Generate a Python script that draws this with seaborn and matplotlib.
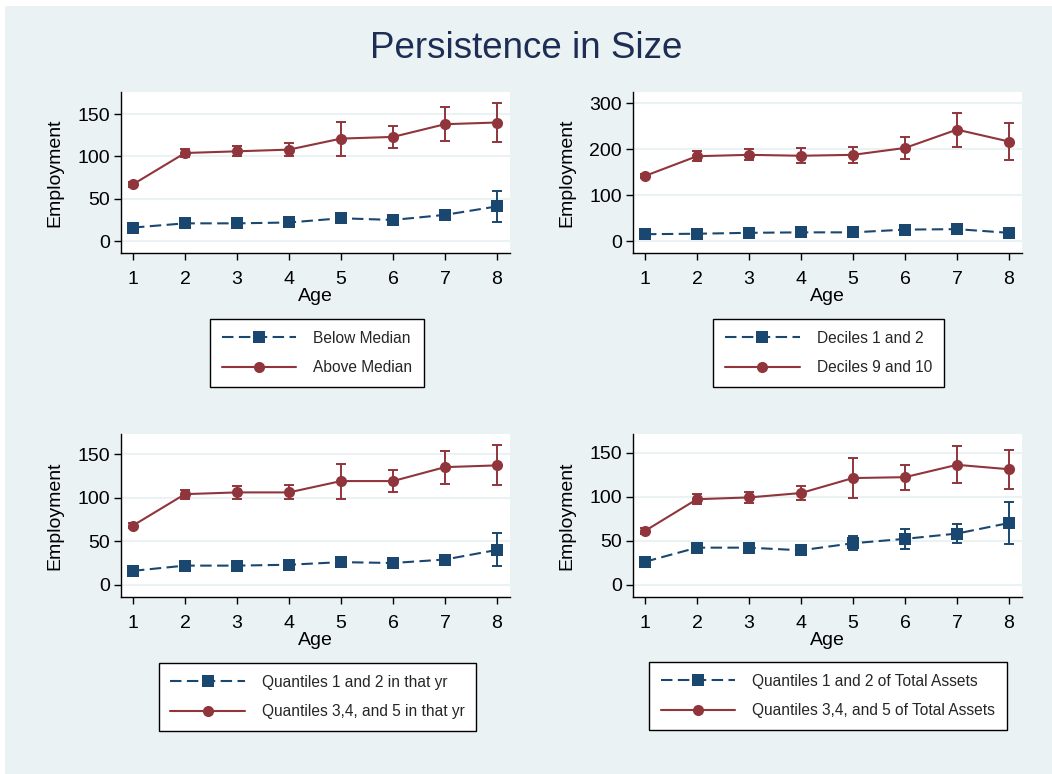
import matplotlib
matplotlib.use("Agg")
import matplotlib.pyplot as plt
import seaborn as sns
import pandas as pd
from matplotlib.patches import Rectangle

# ---- data -----------------------------------------------------------------
ages = [1, 2, 3, 4, 5, 6, 7, 8]

# Panel A: median split
below_median = [16, 21, 21, 22, 27, 25, 31, 41]
below_median_ci = [2, 3, 3, 3, 4, 4, 4, 18]
above_median = [67, 104, 106, 108, 121, 123, 138, 140]
above_median_ci = [3, 5, 6, 8, 20, 13, 20, 23]

# Panel B: decile extremes
deciles_1_2 = [15, 16, 18, 19, 19, 25, 26, 18]
deciles_1_2_ci = [3, 3, 4, 4, 4, 5, 6, 6]
deciles_9_10 = [142, 185, 188, 186, 188, 203, 243, 217]
deciles_9_10_ci = [5, 11, 12, 16, 18, 24, 37, 41]

# Panel C: quantiles within year
q12_year = [16, 22, 22, 23, 26, 25, 29, 40]
q12_year_ci = [2, 3, 3, 3, 4, 4, 4, 19]
q345_year = [68, 104, 106, 106, 119, 119, 135, 137]
q345_year_ci = [3, 5, 7, 8, 20, 13, 19, 23]

# Panel D: quantiles of total assets
q12_assets = [26, 42, 42, 39, 47, 52, 58, 70]
q12_assets_ci = [2, 3, 3, 2, 8, 11, 11, 24]
q345_assets = [61, 97, 99, 104, 121, 122, 136, 131]
q345_assets_ci = [3, 6, 6, 8, 23, 14, 21, 22]

panels = [
    ("Below Median", below_median, below_median_ci,
     "Above Median", above_median, above_median_ci, [0, 50, 100, 150], (-14, 176)),
    ("Deciles 1 and 2", deciles_1_2, deciles_1_2_ci,
     "Deciles 9 and 10", deciles_9_10, deciles_9_10_ci, [0, 100, 200, 300], (-26, 325)),
    ("Quantiles 1 and 2 in that yr", q12_year, q12_year_ci,
     "Quantiles 3,4, and 5 in that yr", q345_year, q345_year_ci, [0, 50, 100, 150], (-14, 173)),
    ("Quantiles 1 and 2 of Total Assets", q12_assets, q12_assets_ci,
     "Quantiles 3,4, and 5 of Total Assets", q345_assets, q345_assets_ci, [0, 50, 100, 150], (-14, 171)),
]

# ---- styling --------------------------------------------------------------
sns.set_theme(style="white")
plt.rcParams["font.family"] = ["Liberation Sans", "DejaVu Sans"]

BLUE = "#1A476F"
RED = "#90353B"
BG = "#EAF2F3"
GRID = "#EAF2F3"
TITLE = "#1E2D53"

W, H = 1052, 774
fig = plt.figure(figsize=(W / 100, H / 100), dpi=100, facecolor="white")
fig.patches.append(Rectangle((5 / W, 0), 1 - 5 / W, 1 - 6 / H, transform=fig.transFigure,
                             facecolor=BG, edgecolor="none", zorder=-10))

fig.text(0.5, 1 - 58 / H, "Persistence in Size", ha="center", va="baseline",
         fontsize=26.5, color=TITLE)

# axes boxes in pixels: left, top, right, bottom
boxes = [(121, 92, 510, 253), (633, 92, 1022, 253),
         (121, 434, 510, 597), (633, 434, 1022, 597)]
legend_centres = [(317, 353), (828.5, 353), (317.5, 697), (828, 696)]

for (lab_lo, lo, lo_ci, lab_hi, hi, hi_ci, yticks, ylim), box, lc in zip(panels, boxes, legend_centres):
    l, t, r, b = box
    ax = fig.add_axes([l / W, 1 - b / H, (r - l) / W, (b - t) / H])
    ax.set_facecolor("white")

    df = pd.DataFrame({
        "Age": ages + ages,
        "Employment": lo + hi,
        "Group": [lab_lo] * len(ages) + [lab_hi] * len(ages),
    })

    # confidence intervals
    ax.errorbar(ages, lo, yerr=lo_ci, fmt="none", ecolor=BLUE, elinewidth=1.4,
                capsize=3.6, capthick=1.4, zorder=3)
    ax.errorbar(ages, hi, yerr=hi_ci, fmt="none", ecolor=RED, elinewidth=1.4,
                capsize=3.6, capthick=1.4, zorder=3)

    sns.lineplot(data=df, x="Age", y="Employment", hue="Group", style="Group",
                 hue_order=[lab_lo, lab_hi], style_order=[lab_lo, lab_hi],
                 palette={lab_lo: BLUE, lab_hi: RED},
                 markers={lab_lo: "s", lab_hi: "o"},
                 dashes={lab_lo: (5.5, 2.6), lab_hi: ""},
                 markersize=8, markeredgewidth=0, linewidth=1.5,
                 ax=ax, zorder=4)

    ax.set_xlim(0.77, 8.25)
    ax.set_ylim(*ylim)
    ax.set_xticks(ages)
    ax.set_yticks(yticks)
    ax.yaxis.grid(True, color=GRID, linewidth=1.5)
    ax.xaxis.grid(False)
    ax.set_axisbelow(True)
    for side in ("top", "right"):
        ax.spines[side].set_visible(False)
    for side in ("left", "bottom"):
        ax.spines[side].set_color("black")
        ax.spines[side].set_linewidth(1.0)
    ax.tick_params(axis="both", which="major", direction="out", length=5, width=1,
                   color="black", labelsize=14, labelcolor="black",
                   bottom=True, left=True)
    ax.tick_params(axis="x", pad=8)
    ax.tick_params(axis="y", pad=3)
    ax.set_xlabel("Age", fontsize=14, color="black", labelpad=0)
    ax.set_ylabel("Employment", fontsize=14, color="black", labelpad=10)

    handles, labels = ax.get_legend_handles_labels()
    ax.legend(handles, labels, loc="center",
              bbox_to_anchor=(lc[0] / W, 1 - lc[1] / H), bbox_transform=fig.transFigure,
              fontsize=11.2, frameon=True, fancybox=False, framealpha=1,
              edgecolor="black", facecolor="white", handlelength=4.8,
              handletextpad=1.1, labelspacing=0.95, borderpad=0.75, borderaxespad=0)
    ax.get_legend().get_frame().set_linewidth(1.0)

fig.savefig("out.png", dpi=100, facecolor=fig.get_facecolor())
